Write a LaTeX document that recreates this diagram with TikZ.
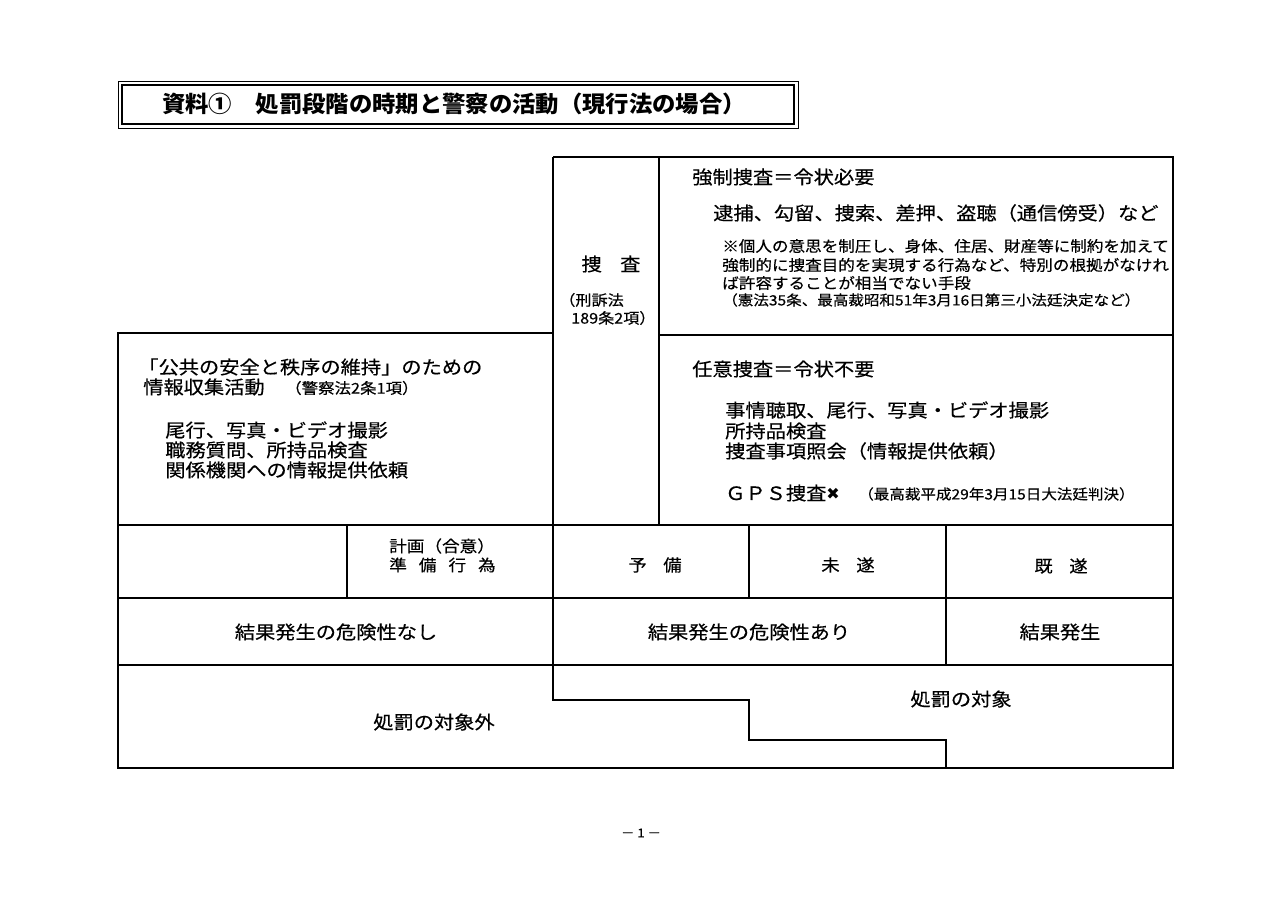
\documentclass[tikz,border=0pt]{standalone}
\usepackage{fontspec}
\setmainfont{Noto Sans CJK JP}[FakeStretch=1.1, FakeBold=0.4]
\newfontfamily\titlefont{Noto Sans CJK JP}[FakeStretch=1.03]
\newfontfamily\dejavu{DejaVu Sans}
\begin{document}
\begin{tikzpicture}[x=0.75pt,y=-0.75pt,
  frame/.style={line width=1.3pt},
  thin/.style={line width=0.8pt},
  txt/.style={inner sep=0pt, anchor=west},
  ctr/.style={inner sep=0pt, anchor=center},
  big/.style={font=\fontsize{13.8}{13.8}\selectfont},
  small/.style={font=\fontsize{11.3}{11.3}\selectfont},
  tiny/.style={font=\fontsize{10.6}{10.6}\selectfont}]
\useasboundingbox[fill=white] (0,0) rectangle (1280,905);

% title box
\draw[line width=0.6pt] (118,81) rectangle (798,128);
\draw[line width=1.3pt] (122,85) rectangle (794,124);
\node[txt, font=\titlefont\bfseries\fontsize{17}{17}\selectfont] (title) at (162,104)
  {資料①　処罰段階の時期と警察の活動（現行法の場合）};

% table lines
\draw[frame] (553,157) -- (1173,157) -- (1173,768) -- (118,768) -- (118,333) -- (553,333);
\draw[frame] (553,157) -- (553,700) -- (749,700) -- (749,740) -- (946,740) -- (946,768);
\draw[frame] (659,157) -- (659,525);
\draw[frame] (659,335) -- (1173,335);
\draw[frame] (118,525) -- (1173,525);
\draw[frame] (118,598) -- (1173,598);
\draw[frame] (118,665) -- (1173,665);
\draw[thin] (347,525) -- (347,598);
\draw[thin] (749,525) -- (749,598);
\draw[frame] (946,525) -- (946,665);

% investigation column
\node[ctr, big] (sousa) at (611,264) {捜\hspace{1em}査};
\node[txt, font=\fontsize{11}{11}\selectfont] (keiso1) at (559,300) {（刑訴法};
\node[txt, font=\fontsize{11}{11}\selectfont] (keiso2) at (571,318) {189条2項）};

% compulsory investigation
\node[txt, big] (kyosei) at (692,177) {強制捜査＝令状必要};
\node[txt, big] (taiho) at (713,213) {逮捕、勾留、捜索、差押、盗聴（通信傍受）など};
\node[txt, small] (note1) at (722,246) {※個人の意思を制圧し、身体、住居、財産等に制約を加えて};
\node[txt, small] (note2) at (722,265) {強制的に捜査目的を実現する行為など、特別の根拠がなけれ};
\node[txt, small] (note3) at (722,283) {ば許容することが相当でない手段};
\node[txt, tiny] (note4) at (722,300) {（憲法35条、最高裁昭和51年3月16日第三小法廷決定など）};

% voluntary investigation
\node[txt, big] (nini) at (692,369) {任意捜査＝令状不要};
\node[txt, big] (nini1) at (725,410) {事情聴取、尾行、写真・ビデオ撮影};
\node[txt, big] (nini2) at (725,431) {所持品検査};
\node[txt, big] (nini3) at (725,451) {捜査事項照会（情報提供依頼）};
\node[txt, big] (gps) at (725,493) {ＧＰＳ捜査{\dejavu\fontsize{12}{12}\selectfont ✖}};
\node[txt, tiny] (gpsref) at (858,494) {（最高裁平成29年3月15日大法廷判決）};

% left box
\node[txt, big] (koukyo) at (138,367) {「公共の安全と秩序の維持」のための};
\node[txt, big] (joho) at (143,387) {情報収集活動};
\node[txt, font=\fontsize{11.2}{11.2}\selectfont] (keisatsu) at (285,388) {（警察法2条1項）};
\node[txt, big] (left1) at (165,430) {尾行、写真・ビデオ撮影};
\node[txt, big] (left2) at (165,450) {職務質問、所持品検査};
\node[txt, big] (left3) at (165,470) {関係機関への情報提供依頼};

% stage row
\node[txt, font=\fontsize{12}{12}\selectfont] (keikaku) at (389,546) {計画（合意）};
\node[txt, font=\fontsize{12}{12}\selectfont] (junbi) at (389,565)
  {準\hspace{0.75em}備\hspace{0.75em}行\hspace{0.75em}為};
\node[ctr, font=\fontsize{12.5}{12.5}\selectfont] (yobi) at (655,565) {予\hspace{1em}備};
\node[ctr, font=\fontsize{12.5}{12.5}\selectfont] (misui) at (848,565) {未\hspace{1em}遂};
\node[ctr, font=\fontsize{12.5}{12.5}\selectfont] (kisui) at (1061,566) {既\hspace{1em}遂};

% danger row
\node[ctr, big] (nashi) at (336,632) {結果発生の危険性なし};
\node[ctr, big] (ari) at (749,632) {結果発生の危険性あり};
\node[ctr, big] (hassei) at (1060,632) {結果発生};

% punishment row
\node[ctr, big] (taishogai) at (434,722) {処罰の対象外};
\node[ctr, big] (taisho) at (961,699) {処罰の対象};

% page number
\node[ctr, font=\fontsize{9}{9}\selectfont] (page) at (641,833) {－ 1 －};
\end{tikzpicture}
\end{document}
